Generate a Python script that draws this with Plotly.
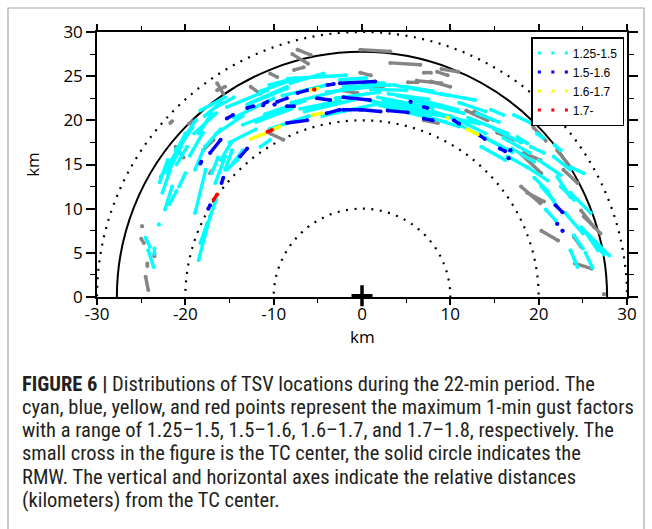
import plotly.graph_objects as go

# TSV tracks, each as (x_start, y_start, x_end, y_end) in km relative to the TC center
gray_tracks = [
    (-24.9, 8.0, -24.9, 8.0), (-25.0, 6.6, -24.7, 6.1), (-24.3, 3.8, -24.3, 3.5),
    (-24.5, 2.3, -24.2, 0.8), (-23.5, 4.8, -23.5, 4.6),
    (-21.1, 17.0, -20.2, 15.8), (-21.7, 19.7, -21.5, 19.9), (-19.6, 19.6, -19.2, 19.9),
    (-18.0, 16.6, -16.8, 17.8), (-17.2, 14.0, -17.0, 14.3), (-10.4, 18.5, -8.9, 17.8),
    (-16.4, 23.4, -15.5, 23.8), (-16.4, 24.2, -15.7, 23.0), (-12.6, 23.8, -11.5, 23.0),
    (-10.4, 25.3, -9.6, 24.9), (-7.7, 25.7, -6.6, 26.0), (-7.9, 27.5, -6.1, 26.4),
    (-7.3, 28.0, -5.8, 27.4), (-0.2, 28.0, 3.2, 27.8), (3.2, 26.5, 6.6, 26.3),
    (-0.2, 25.4, 1.0, 25.1), (-2.4, 23.4, -0.5, 23.1), (0.1, 24.0, 2.4, 23.6),
    (5.2, 24.3, 6.3, 24.3), (7.0, 25.4, 7.8, 25.4), (8.5, 25.5, 9.7, 25.1),
    (9.0, 25.8, 10.9, 25.5), (6.2, 24.5, 9.0, 24.2), (7.8, 24.4, 10.0, 23.8),
    (7.0, 20.0, 8.6, 19.7), (11.8, 21.1, 14.2, 20.0), (12.7, 21.0, 14.9, 20.0),
    (15.3, 18.6, 17.2, 17.8), (19.4, 19.2, 20.8, 17.7), (18.3, 16.3, 20.2, 15.5),
    (18.0, 16.2, 20.3, 14.0), (22.1, 16.6, 23.6, 14.7), (22.8, 14.4, 24.4, 12.9),
    (18.0, 12.5, 20.2, 10.6), (18.7, 11.8, 20.6, 10.8), (24.8, 9.8, 26.3, 7.9),
    (25.1, 9.1, 27.0, 7.2), (20.3, 7.5, 22.2, 6.4), (24.0, 6.8, 24.8, 5.7),
    (24.1, 3.8, 26.0, 3.2), (27.4, 0.3, 27.4, 0.3),
]

cyan_tracks = [
    # western flank
    (-23.0, 8.2, -23.0, 8.2), (-24.5, 6.7, -24.0, 5.7), (-24.2, 5.3, -23.6, 3.4),
    (-23.5, 5.5, -23.5, 4.9), (-22.3, 9.9, -21.5, 12.5), (-22.6, 11.8, -21.7, 14.4),
    (-22.8, 13.6, -20.7, 16.4), (-22.1, 14.7, -19.2, 19.2), (-21.0, 15.0, -19.8, 17.0),
    (-22.9, 13.0, -22.0, 15.5), (-22.0, 14.0, -20.5, 17.0), (-21.5, 15.5, -20.0, 18.5),
    (-20.5, 17.5, -18.8, 20.0), (-19.5, 16.0, -18.0, 18.6), (-18.5, 18.5, -17.0, 20.8),
    (-17.8, 20.5, -16.0, 22.0), (-16.5, 21.5, -14.5, 22.6), (-21.8, 10.5, -21.0, 12.0),
    (-20.7, 12.5, -20.0, 14.0), (-21.1, 16.6, -19.2, 19.2), (-18.3, 21.1, -15.5, 22.6),
    (-19.0, 18.5, -16.5, 20.8), (-17.8, 17.0, -16.0, 19.0),
    (-18.9, 9.5, -17.7, 14.4), (-18.9, 14.4, -18.0, 16.6), (-18.5, 4.2, -17.2, 9.1),
    (-17.2, 9.1, -16.5, 11.0), (-18.3, 6.1, -17.5, 8.4), (-16.6, 12.9, -15.5, 15.9),
    (-15.5, 14.4, -14.7, 16.6), (-14.6, 15.2, -13.5, 16.6), (-17.0, 14.0, -16.3, 15.8),
    (-16.0, 15.5, -14.8, 17.5), (-15.3, 14.4, -14.1, 15.5),
    # northern arc
    (-16.5, 18.5, -13.5, 20.5), (-15.0, 17.5, -12.0, 19.0), (-11.5, 17.0, -10.4, 17.8),
    (-15.3, 21.5, -10.7, 23.4), (-14.5, 20.3, -10.0, 22.5), (-13.5, 19.5, -9.0, 21.2),
    (-12.6, 22.0, -8.5, 23.8), (-13.0, 21.8, -8.5, 23.6), (-11.5, 23.3, -7.8, 24.6),
    (-12.0, 19.8, -8.0, 21.3), (-11.0, 20.7, -6.5, 22.2), (-10.5, 19.0, -6.0, 20.5),
    (-9.0, 22.8, -4.0, 24.0), (-7.0, 21.3, -2.5, 22.2), (-8.4, 24.7, -1.8, 25.1),
    (-10.5, 24.0, -7.5, 24.8), (-8.1, 24.2, -4.4, 25.3), (-8.0, 22.0, -2.0, 23.5),
    (-6.5, 21.0, -1.0, 22.3), (-4.5, 20.5, 1.5, 21.8), (-3.0, 22.5, 2.0, 23.2),
    (-4.0, 23.2, 1.0, 23.8), (-2.5, 24.6, 0.5, 24.8), (0.5, 24.3, 2.5, 24.2),
    (-2.1, 23.8, 3.2, 24.0), (1.0, 23.5, 5.0, 23.4), (3.0, 23.0, 7.5, 22.4),
    (5.0, 23.8, 8.0, 23.3), (3.6, 24.0, 9.8, 22.8), (2.4, 22.3, 10.0, 20.4),
    (1.8, 22.6, 8.0, 21.4), (2.0, 21.7, 9.5, 19.8), (4.0, 22.8, 10.8, 21.2),
    (0.5, 22.3, 13.3, 19.6), (5.5, 21.0, 11.0, 19.3), (6.0, 22.2, 11.5, 20.8),
    (3.0, 21.5, 8.5, 20.6), (8.0, 21.0, 12.0, 19.8), (9.0, 23.0, 12.8, 22.3),
    (11.0, 22.0, 14.0, 21.0), (13.0, 20.8, 15.5, 19.8), (7.8, 22.0, 10.8, 21.2),
    # eastern flank
    (14.6, 21.2, 16.0, 20.6), (17.2, 20.6, 19.1, 19.7), (17.6, 18.1, 18.7, 17.4),
    (19.1, 17.0, 20.6, 16.3), (16.5, 15.9, 18.7, 14.7), (18.7, 14.7, 21.0, 13.2),
    (21.7, 15.9, 23.6, 14.4), (23.6, 14.7, 25.1, 14.0), (11.0, 19.5, 15.5, 17.2),
    (10.0, 20.5, 14.0, 18.5), (12.0, 20.3, 16.5, 18.5), (14.0, 18.0, 17.0, 16.4),
    (13.5, 17.0, 16.2, 15.5), (15.0, 19.0, 18.0, 17.5), (16.0, 18.0, 19.0, 16.3),
    (17.0, 16.8, 19.5, 15.3), (19.8, 18.5, 20.5, 18.0), (21.8, 17.2, 22.5, 16.6),
    (20.0, 15.5, 22.5, 13.8), (19.5, 13.5, 21.0, 12.0), (22.5, 12.5, 24.0, 11.0),
    (20.3, 12.5, 21.7, 10.9), (22.1, 13.6, 23.6, 11.3), (21.1, 11.8, 22.1, 10.2),
    (20.8, 9.9, 21.9, 8.7), (23.6, 11.8, 25.9, 9.5), (23.0, 9.5, 25.0, 7.2),
    (24.8, 7.9, 28.0, 4.7), (25.1, 7.6, 26.7, 5.3), (24.0, 7.0, 25.0, 5.5),
    (26.0, 6.5, 27.4, 4.8), (23.6, 5.3, 24.4, 3.4), (25.3, 5.0, 26.1, 3.3),
]

blue_tracks = [
    # outer band
    (-15.3, 20.2, -14.6, 20.6), (-13.0, 21.4, -12.3, 21.6), (-11.1, 21.9, -10.7, 22.1),
    (-9.6, 22.1, -8.5, 22.5), (-7.3, 23.1, -6.2, 23.4), (-3.9, 24.0, -3.2, 24.1),
    (-2.5, 24.2, 1.5, 24.4),
    # middle band
    (-18.3, 15.1, -18.2, 15.3), (-17.2, 16.3, -16.0, 17.8), (-11.2, 21.7, -11.2, 21.7),
    (-9.9, 21.8, -9.9, 21.8), (-8.5, 21.6, -7.7, 21.6), (-5.1, 22.5, -3.6, 22.3),
    (-2.1, 22.6, 0.9, 22.3), (5.5, 22.1, 5.5, 22.1), (7.0, 21.5, 7.4, 21.4),
    # inner band
    (-17.4, 10.0, -17.2, 10.4), (-15.9, 12.9, -15.7, 13.5), (-13.8, 15.9, -13.0, 16.8),
    (-8.5, 19.7, -6.2, 20.0), (-4.0, 20.8, -2.5, 21.2), (-2.1, 21.2, -0.2, 21.2),
    (0.0, 21.2, 2.1, 21.0), (2.9, 21.1, 5.2, 20.9), (7.0, 20.2, 8.0, 20.0),
    (10.4, 20.0, 11.0, 19.6), (13.3, 18.3, 13.9, 17.9), (15.6, 16.8, 16.2, 16.5),
    (16.8, 16.6, 16.8, 16.6), (16.6, 15.7, 16.6, 15.7),
    (21.9, 10.4, 22.7, 9.6), (22.1, 8.3, 22.1, 8.3), (22.7, 7.5, 22.7, 7.5),
]

yellow_tracks = [
    (-5.8, 23.4, -5.0, 23.6), (-12.6, 17.9, -11.0, 18.5), (-10.0, 19.0, -9.3, 19.3),
    (-5.6, 20.6, -4.5, 20.8), (9.7, 20.3, 9.7, 20.3), (11.9, 19.0, 13.1, 18.4),
]

red_tracks = [
    (-5.4, 23.5, -5.4, 23.5), (-10.7, 18.7, -10.2, 18.9), (-16.8, 11.0, -16.4, 11.6),
]

legend_labels = ["1.25-1.5", "1.5-1.6", "1.6-1.7", "1.7-"]
class_colors = ["#00ffff", "#0000ff", "#ffff00", "#ff0000"]

dotted_radii = [10, 20, 30]
rmw_radius = 27.75

x_tick_vals = [-30, -20, -10, 0, 10, 20, 30]
x_tick_text = ["-30", "-20", "-10", "0", "10", "20", "30"]
y_tick_vals = [0, 5, 10, 15, 20, 25, 30]
y_tick_text = ["0", "5", "10", "15", "20", "25", "30"]

caption_lines = [
    "<b>FIGURE 6 |</b> Distributions of TSV locations during the 22-min period. The",
    "cyan, blue, yellow, and red points represent the maximum 1-min gust factors",
    "with a range of 1.25–1.5, 1.5–1.6, 1.6–1.7, and 1.7–1.8, respectively. The",
    "small cross in the figure is the TC center, the solid circle indicates the",
    "RMW. The vertical and horizontal axes indicate the relative distances",
    "(kilometers) from the TC center.",
]


def track_xy(tracks):
    xs, ys = [], []
    for x0, y0, x1, y1 in tracks:
        xs += [x0, x1, None]
        ys += [y0, y1, None]
    return xs, ys


fig = go.Figure()

for tracks, color in [(gray_tracks, "#858585"), (cyan_tracks, class_colors[0]),
                      (blue_tracks, class_colors[1]), (yellow_tracks, class_colors[2]),
                      (red_tracks, class_colors[3])]:
    xs, ys = track_xy(tracks)
    fig.add_trace(go.Scatter(
        x=xs, y=ys, mode="lines+markers",
        line=dict(color=color, width=3.4),
        marker=dict(color=color, size=4),
        showlegend=False, hoverinfo="skip",
    ))

# legend entries: three dots per class
for label, color in zip(legend_labels, class_colors):
    fig.add_trace(go.Scatter(
        x=[None], y=[None], mode="lines", name=label,
        line=dict(color=color, width=3, dash="3px,10.5px"),
    ))

# TC center cross
fig.add_trace(go.Scatter(
    x=[0], y=[0.15], mode="markers", showlegend=False, hoverinfo="skip", cliponaxis=False,
    marker=dict(symbol="cross-thin", size=15, line=dict(color="black", width=3.5)),
))

shapes = []
for r in dotted_radii:
    shapes.append(dict(type="circle", xref="x", yref="y", x0=-r, y0=-r, x1=r, y1=r,
                       line=dict(color="black", width=2.2, dash="2px,6.5px"), layer="below"))
shapes.append(dict(type="circle", xref="x", yref="y", x0=-rmw_radius, y0=-rmw_radius,
                   x1=rmw_radius, y1=rmw_radius, line=dict(color="black", width=2), layer="below"))
# outer frame around figure and caption
shapes.append(dict(type="rect", xref="paper", yref="paper",
                   x0=(8 - 97) / 530, x1=(644 - 97) / 530, y0=(297 - 540) / 265, y1=(297 - 8) / 265,
                   line=dict(color="#a8a8a8", width=1.2)))

axis_font = dict(family="Open Sans, Arial, sans-serif", size=17, color="black")

annotations = [
    # horizontal axis title
    dict(text="km", xref="paper", yref="paper", x=0.5, y=(297 - 336) / 265,
         xanchor="center", yanchor="middle", showarrow=False, font=axis_font),
]
caption_y = [384, 407, 430, 453, 477, 500]
for text, py in zip(caption_lines, caption_y):
    annotations.append(dict(text=text, xref="paper", yref="paper", x=(20 - 97) / 530,
                            y=(297 - py) / 265, xanchor="left", yanchor="middle",
                            showarrow=False, align="left",
                            font=dict(family="Roboto Condensed, Liberation Sans Narrow, sans-serif",
                                      size=20.5, color="#231f20")))

fig.update_layout(
    width=652, height=529,
    margin=dict(l=97, r=25, t=32, b=232),
    paper_bgcolor="white", plot_bgcolor="white",
    shapes=shapes, annotations=annotations,
    legend=dict(x=0.995, y=0.981, xanchor="right", yanchor="top",
                bgcolor="white", bordercolor="black", borderwidth=1.5,
                font=dict(family="Liberation Sans, Arial, sans-serif", size=12, color="black"),
                tracegroupgap=0, itemwidth=30),
    xaxis=dict(range=[-30, 30], tickvals=x_tick_vals, ticktext=x_tick_text,
               ticks="outside", ticklen=6, tickwidth=1.5, tickcolor="black",
               ticklabelstandoff=-5,
               minor=dict(dtick=5, ticks="outside", ticklen=4, tickwidth=1.2, tickcolor="black"),
               showline=True, linecolor="black", linewidth=1.5, mirror="ticks",
               showgrid=False, zeroline=False, tickfont=axis_font),
    yaxis=dict(range=[0, 30], tickvals=y_tick_vals, ticktext=y_tick_text,
               ticks="outside", ticklen=9, tickwidth=1.5, tickcolor="black",
               minor=dict(dtick=2.5, ticks="outside", ticklen=5, tickwidth=1.2, tickcolor="black"),
               showline=True, linecolor="black", linewidth=1.5, mirror="ticks",
               showgrid=False, zeroline=False, tickfont=axis_font,
               title=dict(text="km", font=axis_font, standoff=19)),
)

fig.write_html("out.html")
